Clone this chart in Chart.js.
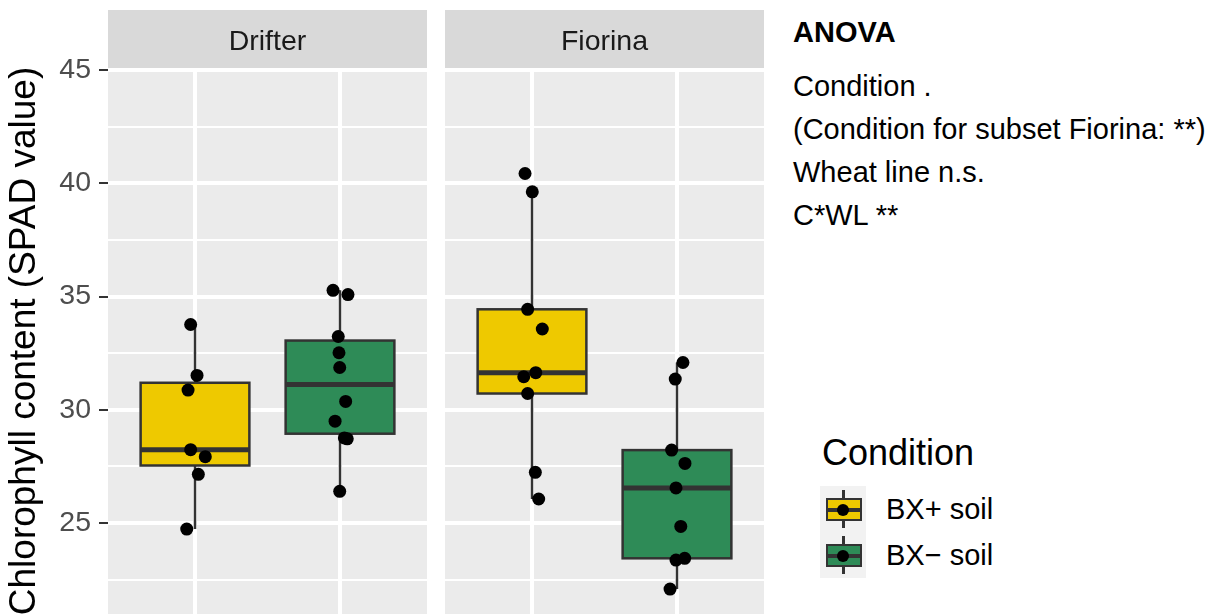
<!DOCTYPE html>
<html>
<head>
<meta charset="utf-8">
<script src="https://cdn.jsdelivr.net/npm/chart.js@4.4.0/dist/chart.umd.min.js"></script>
<style>
  body { margin: 0; width: 1217px; height: 614px; overflow: hidden; background: #fff; position: relative;
         font-family: "Liberation Sans", Arial, sans-serif; }
  canvas { position: absolute; top: 0; }
  #drifter { left: 0; }
  #fiorina { left: 445px; }
  .note { position: absolute; left: 793px; font-size: 29px; line-height: 29px; color: #000; white-space: nowrap; }
  .legend-title { position: absolute; left: 822px; top: 435px; font-size: 36px; line-height: 36px; color: #000; }
  .legend-keys { position: absolute; left: 820px; top: 486px; width: 46px; height: 92px; background: #F2F2F2; }
  .key { position: absolute; left: 0; width: 46px; height: 46px; }
  .key .whisker { position: absolute; left: 22px; top: 4px; width: 2.5px; height: 38px; background: #333; }
  .key .box { position: absolute; left: 6px; top: 12px; width: 36px; height: 23px; box-sizing: border-box; border: 2.5px solid #333; }
  .key .median { position: absolute; left: 6px; top: 22px; width: 36px; height: 4px; background: #333; }
  .key .dot { position: absolute; left: 17px; top: 18px; width: 12px; height: 12px; border-radius: 50%; background: #000; }
  .legend-label { position: absolute; left: 886px; font-size: 29px; line-height: 29px; color: #000; white-space: nowrap; }
</style>
</head>
<body>
<canvas id="drifter" width="427" height="614"></canvas>
<canvas id="fiorina" width="319" height="614"></canvas>
<div id="notes"></div>
<div id="legend"></div>
<script>
// data
const wheatLines = ['Drifter', 'Fiorina'];
const conditions = ['BX+ soil', 'BX\u2212 soil'];
const conditionColors = ['#EEC900', '#2E8B57'];

const drifterPlus = [33.77, 31.52, 30.87, 28.24, 27.93, 27.15, 24.73];
const drifterMinus = [35.28, 35.09, 33.24, 32.52, 31.87, 30.37, 29.50, 28.76, 28.72, 26.40];
const fiorinaPlus = [40.44, 39.63, 34.44, 33.57, 31.64, 31.46, 30.72, 27.24, 26.06];
const fiorinaMinus = [32.09, 31.36, 28.22, 27.63, 26.55, 24.85, 23.36, 23.44, 22.08];

// horizontal jitter of each point (in category units)
const drifterPlusJitter = [-0.030, 0.014, -0.048, -0.030, 0.071, 0.023, -0.057];
const drifterMinusJitter = [-0.048, 0.055, -0.012, -0.007, -0.002, 0.039, -0.034, 0.030, 0.050, -0.002];
const fiorinaPlusJitter = [-0.048, 0.002, -0.030, 0.071, 0.026, -0.057, -0.030, 0.023, 0.046];
const fiorinaMinusJitter = [0.041, -0.012, -0.037, 0.055, -0.007, 0.026, -0.007, 0.053, -0.048];

const yTicks = [25, 30, 35, 40, 45];
const yMinor = [22.5, 27.5, 32.5, 37.5, 42.5];
const yTitle = 'Chlorophyll content (SPAD value)';

const anovaTitle = 'ANOVA';
const anovaLines = ['Condition .', '(Condition for subset Fiorina: **)', 'Wheat line n.s.', 'C*WL **'];
const legendTitle = 'Condition';

const FONT = '"Liberation Sans", Arial, sans-serif';
const BOX_WIDTH = 0.75;

function quantile(s, p) {
  const h = (s.length - 1) * p, lo = Math.floor(h);
  const next = lo + 1 < s.length ? s[lo + 1] : s[lo];
  return s[lo] + (h - lo) * (next - s[lo]);
}

function boxStats(values) {
  const s = [...values].sort((a, b) => a - b);
  const q1 = quantile(s, 0.25), med = quantile(s, 0.5), q3 = quantile(s, 0.75);
  const iqr = q3 - q1;
  const lo = Math.min(...s.filter(v => v >= q1 - 1.5 * iqr));
  const hi = Math.max(...s.filter(v => v <= q3 + 1.5 * iqr));
  return { q1, med, q3, lo, hi };
}

function panelPlugin(label, groups) {
  return {
    id: 'panel',
    beforeDraw(chart) {
      const { ctx, chartArea: a } = chart;
      ctx.save();
      ctx.fillStyle = '#EBEBEB';
      ctx.fillRect(a.left, a.top, a.right - a.left, a.bottom - a.top);
      ctx.fillStyle = '#D9D9D9';
      ctx.fillRect(a.left, 10, a.right - a.left, a.top - 10);
      ctx.fillStyle = '#1A1A1A';
      ctx.font = '28.5px ' + FONT;
      ctx.textAlign = 'center';
      ctx.textBaseline = 'alphabetic';
      ctx.fillText(label, (a.left + a.right) / 2, 50);
      ctx.restore();
    },
    beforeDatasetsDraw(chart) {
      const { ctx, scales: { x, y } } = chart;
      ctx.save();
      groups.forEach((values, i) => {
        const st = boxStats(values);
        const cx = x.getPixelForValue(i + 1);
        const l = x.getPixelForValue(i + 1 - BOX_WIDTH / 2);
        const r = x.getPixelForValue(i + 1 + BOX_WIDTH / 2);
        const top = y.getPixelForValue(st.q3), bot = y.getPixelForValue(st.q1);
        ctx.strokeStyle = '#333333';
        ctx.lineWidth = 2.5;
        ctx.beginPath();
        ctx.moveTo(cx, y.getPixelForValue(st.hi));
        ctx.lineTo(cx, top);
        ctx.moveTo(cx, bot);
        ctx.lineTo(cx, y.getPixelForValue(st.lo));
        ctx.stroke();
        ctx.fillStyle = conditionColors[i];
        ctx.fillRect(l, top, r - l, bot - top);
        ctx.strokeRect(l, top, r - l, bot - top);
        ctx.lineWidth = 5;
        ctx.beginPath();
        ctx.moveTo(l, y.getPixelForValue(st.med));
        ctx.lineTo(r, y.getPixelForValue(st.med));
        ctx.stroke();
      });
      ctx.restore();
    }
  };
}

function makeScales(showAxis) {
  return {
    x: {
      type: 'linear', min: 0.4, max: 2.6,
      afterBuildTicks: s => { s.ticks = [1, 2].map(v => ({ value: v })); },
      afterFit: s => { s.height = 0; s.paddingLeft = 0; s.paddingRight = 0; s.paddingTop = 0; s.paddingBottom = 0; },
      ticks: { display: false },
      grid: { color: '#FFFFFF', lineWidth: 4, drawTicks: false },
      border: { display: false }
    },
    y: {
      type: 'linear', min: 20.98, max: 45.1,
      afterBuildTicks: s => {
        s.ticks = yMinor.concat(yTicks).sort((a, b) => a - b).map(v => ({ value: v }));
      },
      afterFit: s => {
        s.width = showAxis ? 108 : 0;
        s.paddingTop = 0; s.paddingBottom = 0; s.paddingLeft = 0; s.paddingRight = 0;
      },
      ticks: {
        display: showAxis, autoSkip: false, color: '#4D4D4D', padding: 8,
        font: { size: 28.5, family: FONT },
        callback: v => yTicks.includes(v) ? String(v) : ''
      },
      grid: {
        color: '#FFFFFF',
        lineWidth: c => (c.tick && yTicks.includes(c.tick.value)) ? 4 : 2,
        drawTicks: showAxis, tickLength: 9, tickWidth: 2,
        tickColor: c => (c.tick && yTicks.includes(c.tick.value)) ? '#333333' : 'rgba(0,0,0,0)'
      },
      border: { display: false },
      title: {
        display: showAxis, text: yTitle, color: '#000000',
        font: { size: 37, family: FONT }, padding: { top: 3, bottom: 0 }
      }
    }
  };
}

function pointSet(values, jitter, cat) {
  return {
    type: 'scatter',
    data: values.map((v, i) => ({ x: cat + jitter[i], y: v })),
    backgroundColor: '#000000', borderColor: '#000000', borderWidth: 0,
    pointRadius: 6.5, pointHoverRadius: 6.5
  };
}

function makeChart(id, label, plus, minus, plusJitter, minusJitter, showAxis) {
  return new Chart(document.getElementById(id), {
    type: 'scatter',
    data: { datasets: [pointSet(plus, plusJitter, 1), pointSet(minus, minusJitter, 2)] },
    options: {
      responsive: false, animation: false, devicePixelRatio: 1,
      layout: { autoPadding: false, padding: { top: 68, left: 0, right: 0, bottom: 0 } },
      plugins: { legend: { display: false }, tooltip: { enabled: false } },
      scales: makeScales(showAxis)
    },
    plugins: [panelPlugin(label, [plus, minus])]
  });
}

makeChart('drifter', wheatLines[0], drifterPlus, drifterMinus, drifterPlusJitter, drifterMinusJitter, true);
makeChart('fiorina', wheatLines[1], fiorinaPlus, fiorinaMinus, fiorinaPlusJitter, fiorinaMinusJitter, false);

// annotation text
const notes = document.getElementById('notes');
const noteTops = [18, 72, 115, 158, 201];
[anovaTitle].concat(anovaLines).forEach((t, i) => {
  const d = document.createElement('div');
  d.className = 'note';
  d.style.top = noteTops[i] + 'px';
  if (i === 0) d.style.fontWeight = 'bold';
  d.textContent = t;
  notes.appendChild(d);
});

// legend
const legend = document.getElementById('legend');
legend.innerHTML = '<div class="legend-title">' + legendTitle + '</div><div class="legend-keys"></div>';
const keys = legend.querySelector('.legend-keys');
conditions.forEach((c, i) => {
  const k = document.createElement('div');
  k.className = 'key';
  k.style.top = (i * 46) + 'px';
  k.innerHTML = '<div class="whisker"></div><div class="box" style="background:' + conditionColors[i] +
    '"></div><div class="median"></div><div class="dot"></div>';
  keys.appendChild(k);
  const lab = document.createElement('div');
  lab.className = 'legend-label';
  lab.style.top = (495 + i * 46) + 'px';
  lab.textContent = c;
  legend.appendChild(lab);
});
</script>
</body>
</html>
